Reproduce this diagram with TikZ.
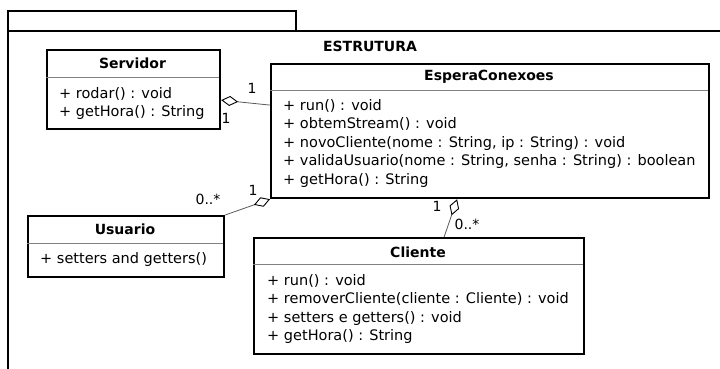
\documentclass[tikz,border=0pt]{standalone}
\usepackage{fontspec}
\setmainfont{DejaVu Sans}
\usetikzlibrary{arrows.meta}

\tikzset{
  classbox/.style={draw, line width=2.2pt, anchor=north west, inner sep=0pt},
  classname/.style={font=\fontsize{14}{17}\selectfont\bfseries, inner sep=0pt},
  members/.style={anchor=north west, align=left, inner sep=0pt, font=\fontsize{14.5}{18.5}\selectfont},
  sepline/.style={draw=gray, line width=0.8pt},
  pkg/.style={draw, line width=2pt},
  aggr/.style={draw=black!65, line width=0.8pt, {Diamond[open, length=17pt, width=10pt, line width=0.9pt, black]}-},
  mult/.style={font=\fontsize{14}{17}\selectfont, inner sep=0pt}
}

\begin{document}
\begin{tikzpicture}[x=1pt, y=-1pt]
    \useasboundingbox (0,0) rectangle (720,369);

    % Package
    \draw[pkg] (8,369) -- (8,11) -- (296,11) -- (296,31);
    \draw[pkg] (8,31) -- (720,31);
    \node[classname] (pkgname) at (370,46) {ESTRUTURA};

    % Servidor
    \node[classbox, minimum width=173pt, minimum height=79pt] (srv) at (46,49) {};
    \node[classname] (srvname) at (132.5,63) {Servidor};
    \draw[sepline] (46,77) -- (219,77);
    \node[members] (srvops) at (59,87) {+ rodar() : void\\+ getHora() : String};

    % EsperaConexoes
    \node[classbox, minimum width=438pt, minimum height=134pt] (espera) at (270,63) {};
    \node[classname] (esperaname) at (489,77) {EsperaConexoes};
    \draw[sepline] (270,90) -- (708,90);
    \node[members] (esperaops) at (283,99) {+ run() : void\\+ obtemStream() : void\\+ novoCliente(nome : String, ip : String) : void\\+ validaUsuario(nome : String, senha : String) : boolean\\+ getHora() : String};

    % Usuario
    \node[classbox, minimum width=196pt, minimum height=61pt] (usr) at (27,215) {};
    \node[classname] (usrname) at (125,229) {Usuario};
    \draw[sepline] (27,243) -- (223,243);
    \node[members] (usrops) at (40,252) {+ setters and getters()};

    % Cliente
    \node[classbox, minimum width=330pt, minimum height=116pt] (cli) at (253,237) {};
    \node[classname] (cliname) at (418,252) {Cliente};
    \draw[sepline] (253,264) -- (583,264);
    \node[members] (cliops) at (267,274) {+ run() : void\\+ removerCliente(cliente : Cliente) : void\\+ setters e getters() : void\\+ getHora() : String};

    % Aggregations
    \draw[aggr] ([yshift=-10.5pt]srv.east) -- ([yshift=26pt]espera.west);
    \draw[aggr] (espera.south west) -- (usr.north east);
    \draw[aggr] ([xshift=-33pt]espera.south) -- ([xshift=25pt]cli.north);

    % Multiplicities
    \node[mult] (m1) at (252,88) {1};
    \node[mult] (m2) at (226,118) {1};
    \node[mult] (m3) at (208,199) {0..*};
    \node[mult] (m4) at (253,190) {1};
    \node[mult] (m5) at (437,206) {1};
    \node[mult] (m6) at (467,224) {0..*};
\end{tikzpicture}
\end{document}
